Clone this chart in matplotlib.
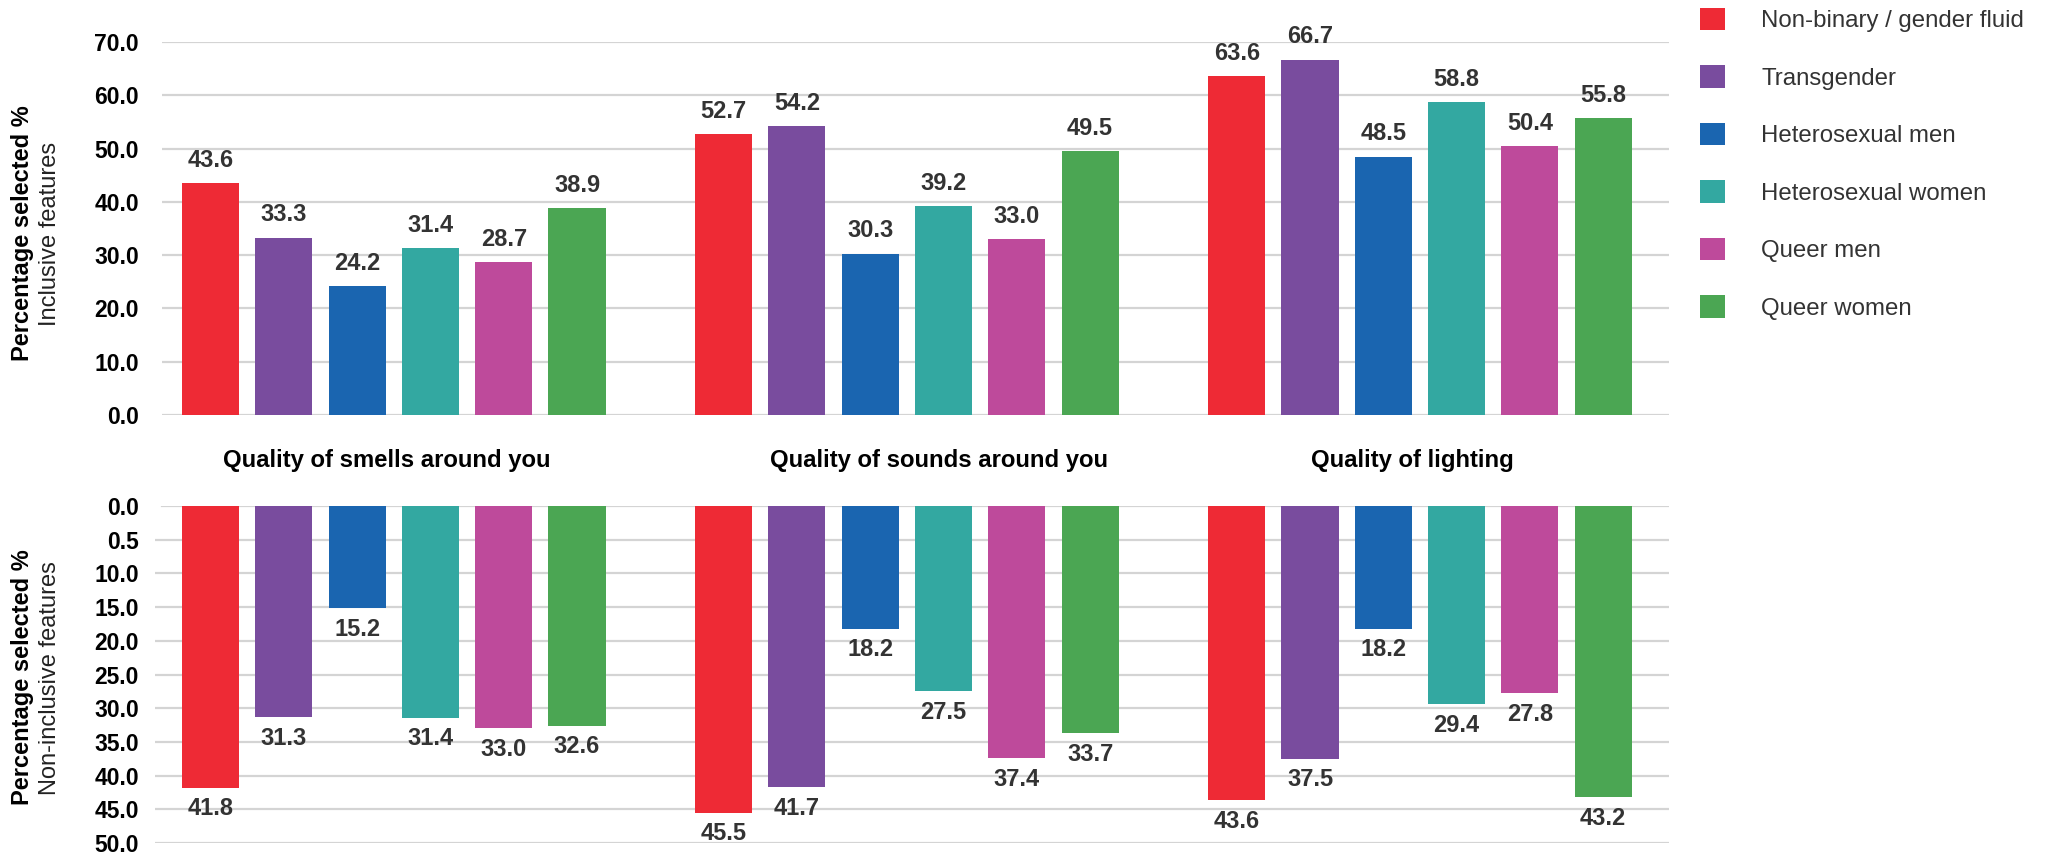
import matplotlib
matplotlib.use("Agg")
import matplotlib.pyplot as plt
from matplotlib.patches import Patch
import matplotlib.transforms as mtransforms
import numpy as np

plt.rcParams['font.family'] = ['Liberation Sans', 'DejaVu Sans']

# Survey groups and the features they were asked about
groups = ["Non-binary / gender fluid", "Transgender", "Heterosexual men",
          "Heterosexual women", "Queer men", "Queer women"]
colors = ["#EE2A35", "#794C9E", "#1A65B0", "#33A8A1", "#BE4A9B", "#4BA653"]
features = ["Quality of smells around you", "Quality of sounds around you",
            "Quality of lighting"]

# % selecting each feature as inclusive (rows = features, cols = groups)
inclusive = [
    [43.6, 33.3, 24.2, 31.4, 28.7, 38.9],
    [52.7, 54.2, 30.3, 39.2, 33.0, 49.5],
    [63.6, 66.7, 48.5, 58.8, 50.4, 55.8],
]
# % selecting each feature as non-inclusive
non_inclusive = [
    [41.8, 31.3, 15.2, 31.4, 33.0, 32.6],
    [45.5, 41.7, 18.2, 27.5, 37.4, 33.7],
    [43.6, 37.5, 18.2, 29.4, 27.8, 43.2],
]

top_ticks = [0, 10, 20, 30, 40, 50, 60, 70]
bottom_ticks = [0, 5, 10, 15, 20, 25, 30, 35, 40, 45, 50]
bottom_ticklabels = ["0.0", "0.5", "10.0", "15.0", "20.0", "25.0", "30.0",
                     "35.0", "40.0", "45.0", "50.0"]

W, H = 2048, 856
fig = plt.figure(figsize=(W / 100, H / 100), dpi=100)

ax_top = fig.add_axes([162 / W, 1 - 415 / H, (1669 - 162) / W, (415 - 42) / H])
ax_bot = fig.add_axes([155 / W, 1 - 843 / H, (1669 - 155) / W, (843 - 506) / H])

n = len(groups)
pitch = 73.3  # px per bar slot
x0_px = 210.5  # centre of the first bar
bar_w = 0.78

def setup(ax, left_px, pad):
    ax.set_xlim((left_px - x0_px) / pitch, (1669 - x0_px) / pitch)
    for s in ax.spines.values():
        s.set_visible(False)
    ax.set_xticks([])
    ax.tick_params(axis='y', length=0, pad=pad, labelsize=16.5)
    for lab in ax.get_yticklabels():
        lab.set_fontweight('bold')
    ax.set_axisbelow(True)

grid_kw = dict(color="#d4d4d4", lw=1.6, zorder=0)
val_kw = dict(fontsize=17, fontweight="bold", color="#333333", ha="center",
              textcoords="offset points", annotation_clip=False)

# top panel: inclusive
for g, vals in enumerate(inclusive):
    xs = np.arange(n) + g * (n + 1)
    ax_top.bar(xs, vals, width=bar_w, color=colors, zorder=2)
    for x, v in zip(xs, vals):
        ax_top.annotate(f"{v:.1f}", (x, v), xytext=(0, 8), va="bottom", **val_kw)
ax_top.set_ylim(0, 70)
ax_top.set_yticks(top_ticks)
ax_top.set_yticklabels([f"{t:.1f}" for t in top_ticks])
for t in top_ticks:
    ax_top.axhline(t, **grid_kw)
setup(ax_top, 162, 16.5)

# bottom panel: non-inclusive, hanging down from zero
for g, vals in enumerate(non_inclusive):
    xs = np.arange(n) + g * (n + 1)
    ax_bot.bar(xs, vals, width=bar_w, color=colors, zorder=2)
    for x, v in zip(xs, vals):
        ax_bot.annotate(f"{v:.1f}", (x, v), xytext=(0, -7), va="top", **val_kw)
ax_bot.set_ylim(50, 0)
ax_bot.set_yticks(bottom_ticks)
ax_bot.set_yticklabels(bottom_ticklabels)
for t in bottom_ticks:
    if t == 0:
        ax_bot.axhline(t, xmin=7 / (1669 - 155), **grid_kw)
    else:
        ax_bot.axhline(t, **grid_kw)
setup(ax_bot, 155, 11.5)

# feature names between the panels (nudged slightly off the group centres)
title_shift = [-0.09, 0.44, -0.1]
trans = mtransforms.blended_transform_factory(ax_top.transData, fig.transFigure)
for g, name in enumerate(features):
    cx = g * (n + 1) + (n - 1) / 2 + title_shift[g]
    ax_top.text(cx, 1 - 460 / H, name, transform=trans, ha="center", va="center",
                fontsize=17.2, fontweight="bold", color="black")

# axis titles
fig.text(23 / W, 1 - 233 / H, "Percentage selected %", rotation=90, ha="center",
         va="center", fontsize=17, fontweight="bold")
fig.text(50 / W, 1 - 234 / H, "Inclusive features", rotation=90, ha="center",
         va="center", fontsize=17, color="#222222")
fig.text(23 / W, 1 - 677 / H, "Percentage selected %", rotation=90, ha="center",
         va="center", fontsize=17, fontweight="bold")
fig.text(50 / W, 1 - 678 / H, "Non-inclusive features", rotation=90, ha="center",
         va="center", fontsize=17, color="#222222")

handles = [Patch(facecolor=c, edgecolor="none") for c in colors]
fig.legend(handles, groups, loc="upper left", bbox_to_anchor=(1695 / W, 1 - 3 / H),
           frameon=False, fontsize=17.3, handlelength=1.05, handleheight=1.05,
           labelspacing=1.38, handletextpad=1.5, borderaxespad=0, borderpad=0.2,
           labelcolor="#333333")

fig.savefig("out.png", dpi=100)
